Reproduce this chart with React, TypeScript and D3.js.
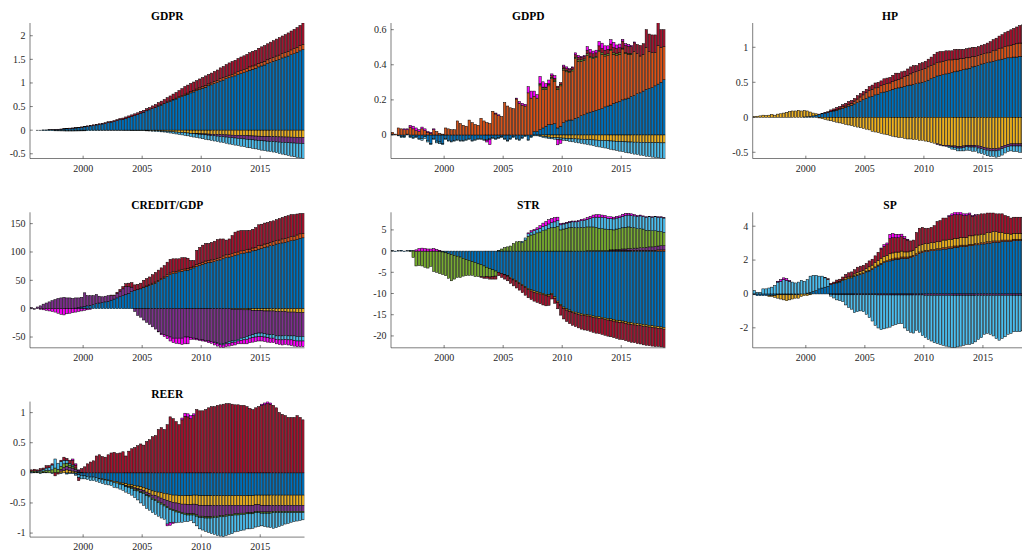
import React from "react";
import * as d3 from "d3";

// Quarterly sample: 1995Q3 ... 2018Q3 (93 quarters)
const FIRST_QUARTER = 1995.5;
const N_QUARTERS = 93;
const quarterStarts = d3.range(N_QUARTERS).map((i) => FIRST_QUARTER + i * 0.25);

// Shock colours (stacking order 1..8)
const SHOCK_COLORS = ["#0072BD", "#D95319", "#EDB120", "#7E2F8E", "#77AC30", "#4DBEEE", "#A2142F", "#FF00FF"];

const YEAR_TICKS = [2000, 2005, 2010, 2015];

// Each row of the series below: 1995Q3-1997Q4 | 1998-2001 | 2002-2005 | 2006-2009 | 2010-2013 | 2014-2017 | 2018Q1-Q3

// ---------- GDPR ----------
const gdprBlue = [
  0, 0,  0, 0, 0.005, 0.005,  0.01, 0.01, 0.015, 0.015,
  0.02, 0.025, 0.03, 0.035,  0.04, 0.045, 0.05, 0.06,  0.07, 0.08, 0.09, 0.1,  0.11, 0.12, 0.13, 0.14,
  0.16, 0.17, 0.18, 0.2,  0.22, 0.23, 0.25, 0.27,  0.29, 0.31, 0.33, 0.36,  0.38, 0.41, 0.43, 0.46,
  0.48, 0.51, 0.53, 0.56,  0.59, 0.61, 0.64, 0.66,  0.69, 0.71, 0.74, 0.76,  0.79, 0.81, 0.84, 0.86,
  0.89, 0.91, 0.94, 0.96,  0.99, 1.01, 1.04, 1.06,  1.09, 1.11, 1.13, 1.15,  1.18, 1.2, 1.22, 1.24,
  1.27, 1.29, 1.31, 1.34,  1.36, 1.38, 1.41, 1.43,  1.46, 1.48, 1.5, 1.53,  1.55, 1.57, 1.6, 1.62,
  1.65, 1.68, 1.71,
];
const gdprOrange = [
  0, 0,  0, 0, 0, 0,  0, 0, 0, 0,
  0, 0, 0, 0,  0, 0, 0, 0,  0, 0, 0, 0,  0, 0, 0, 0,
  0, 0, 0, 0,  0, 0, 0, 0,  0, 0, 0, 0,  0, 0, 0, 0,
  0.005, 0.005, 0.01, 0.01,  0.01, 0.015, 0.015, 0.02,  0.02, 0.02, 0.025, 0.025,  0.03, 0.03, 0.03, 0.035,
  0.035, 0.04, 0.04, 0.04,  0.045, 0.045, 0.05, 0.05,  0.05, 0.055, 0.055, 0.06,  0.06, 0.06, 0.065, 0.065,
  0.07, 0.07, 0.07, 0.075,  0.075, 0.08, 0.08, 0.085,  0.085, 0.09, 0.09, 0.095,  0.095, 0.1, 0.1, 0.105,
  0.105, 0.11, 0.11,
];
const gdprYellow = [
  0, 0,  0, 0, 0, 0,  0, 0, 0, 0,
  0, 0, 0, 0,  0, 0, 0, 0,  0, 0, 0, 0,  0, 0, 0, 0,
  0, 0, 0, 0,  0, 0, 0, 0,  -0.002, -0.003, -0.004, -0.005,  -0.006, -0.008, -0.01, -0.012,
  -0.014, -0.016, -0.018, -0.02,  -0.025, -0.03, -0.035, -0.04,  -0.045, -0.05, -0.055, -0.06,  -0.065, -0.07, -0.072, -0.075,
  -0.078, -0.08, -0.083, -0.086,  -0.089, -0.092, -0.095, -0.098,  -0.1, -0.103, -0.106, -0.108,  -0.11, -0.113, -0.115, -0.118,
  -0.12, -0.122, -0.125, -0.127,  -0.13, -0.132, -0.134, -0.136,  -0.138, -0.14, -0.142, -0.143,  -0.145, -0.146, -0.148, -0.149,
  -0.15, -0.152, -0.155,
];
const gdprPurple = [
  0, 0,  0, 0, 0, 0,  0, 0, 0, 0,
  0, 0, 0, 0,  0, 0, 0, 0,  0, 0, 0, 0,  0, 0, 0, 0,
  0, 0, 0, 0,  0, 0, 0, 0,  0, 0, 0, 0,  0, 0, 0, 0,
  0, 0, 0, 0,  0, 0, 0, 0,  0, 0, 0, 0,  -0.002, -0.005, -0.008, -0.011,
  -0.014, -0.018, -0.022, -0.026,  -0.03, -0.034, -0.038, -0.042,  -0.046, -0.05, -0.054, -0.058,  -0.062, -0.066, -0.07, -0.074,
  -0.078, -0.082, -0.086, -0.09,  -0.093, -0.096, -0.099, -0.102,  -0.105, -0.108, -0.111, -0.114,  -0.117, -0.12, -0.122, -0.124,
  -0.126, -0.128, -0.13,
];
const gdprLightBlue = [
  0, 0,  -0.002, -0.004, -0.006, -0.008,  -0.01, -0.012, -0.014, -0.015,
  -0.016, -0.017, -0.018, -0.018,  -0.018, -0.017, -0.016, -0.015,  -0.014, -0.012, -0.01, -0.008,  -0.006, -0.004, -0.003, -0.002,
  -0.001, -0.001, -0.001, -0.001,  -0.002, -0.002, -0.002, -0.003,  -0.003, -0.004, -0.004, -0.005,  -0.006, -0.007, -0.008, -0.01,
  -0.012, -0.015, -0.018, -0.02,  -0.025, -0.03, -0.035, -0.04,  -0.045, -0.05, -0.055, -0.06,  -0.065, -0.07, -0.075, -0.08,
  -0.09, -0.095, -0.1, -0.105,  -0.11, -0.115, -0.12, -0.125,  -0.13, -0.14, -0.145, -0.15,  -0.155, -0.16, -0.165, -0.17,
  -0.175, -0.18, -0.185, -0.19,  -0.2, -0.205, -0.21, -0.215,  -0.22, -0.23, -0.24, -0.25,  -0.26, -0.27, -0.28, -0.29,
  -0.3, -0.31, -0.32,
];
const gdprDarkRed = [
  0, 0,  0, 0, 0, 0,  0.002, 0.003, 0.004, 0.005,
  0.005, 0.006, 0.007, 0.008,  0.008, 0.009, 0.01, 0.01,  0.01, 0.012, 0.013, 0.014,  0.015, 0.016, 0.017, 0.018,
  0.019, 0.02, 0.022, 0.024,  0.025, 0.027, 0.03, 0.032,  0.034, 0.036, 0.038, 0.04,  0.04, 0.045, 0.05, 0.055,
  0.06, 0.07, 0.075, 0.08,  0.09, 0.1, 0.11, 0.12,  0.13, 0.15, 0.16, 0.17,  0.17, 0.18, 0.18, 0.19,
  0.19, 0.2, 0.2, 0.21,  0.21, 0.22, 0.23, 0.24,  0.25, 0.26, 0.27, 0.27,  0.28, 0.29, 0.29, 0.3,
  0.3, 0.31, 0.31, 0.32,  0.33, 0.33, 0.34, 0.35,  0.35, 0.36, 0.37, 0.37,  0.38, 0.39, 0.4, 0.41,
  0.42, 0.43, 0.45,
];

// ---------- GDPD ----------
const gdpdBlue = [
  0.005, 0,  -0.005, -0.01, -0.01, 0.005,  -0.01, -0.015, -0.01, -0.02,
  -0.02, -0.01, -0.03, -0.05,  -0.02, -0.035, -0.04, -0.05,  -0.02, -0.03, -0.035, -0.03,  -0.025, -0.03, -0.03, -0.025,
  -0.02, -0.03, -0.025, -0.02,  -0.02, -0.025, -0.025, -0.02,  -0.015, -0.02, -0.015, -0.01,  -0.02, -0.03, -0.02, -0.01,
  -0.02, -0.025, -0.015, -0.005,  -0.025, -0.01, 0.02, 0.02,  0.03, 0.04, 0.05, 0.06,  0.06, 0.065, 0.04, 0.05,
  0.07, 0.08, 0.085, 0.085,  0.095, 0.1, 0.11, 0.115,  0.125, 0.13, 0.135, 0.14,  0.145, 0.15, 0.16, 0.165,
  0.17, 0.18, 0.185, 0.19,  0.2, 0.205, 0.21, 0.22,  0.225, 0.235, 0.24, 0.25,  0.26, 0.265, 0.27, 0.28,
  0.29, 0.3, 0.315,
];
const gdpdOrange = [
  0.01, 0.005,  0.04, 0.035, 0.03, 0.025,  0.045, 0.035, 0.025, 0.02,
  0.035, 0.025, 0.015, 0.01,  0.03, 0.02, 0.01, 0.005,  0.04, 0.035, 0.03, 0.03,  0.08, 0.065, 0.055, 0.05,
  0.085, 0.07, 0.06, 0.055,  0.095, 0.08, 0.07, 0.065,  0.135, 0.12, 0.11, 0.105,  0.185, 0.165, 0.155, 0.15,
  0.205, 0.18, 0.17, 0.165,  0.24, 0.21, 0.2, 0.19,  0.25, 0.22, 0.21, 0.22,  0.26, 0.24, 0.22, 0.23,
  0.3, 0.28, 0.27, 0.28,  0.34, 0.32, 0.31, 0.31,  0.33, 0.31, 0.3, 0.3,  0.33, 0.31, 0.29, 0.29,
  0.31, 0.28, 0.27, 0.27,  0.29, 0.26, 0.25, 0.24,  0.25, 0.23, 0.21, 0.21,  0.24, 0.21, 0.2, 0.19,
  0.22, 0.2, 0.19,
];
const gdpdYellow = [
  0, 0,  0, 0, 0, 0,  0, 0, 0, 0,
  0, 0, 0, 0,  0, 0, 0, 0,  0, 0, 0, 0,  0, 0, 0, 0,
  0, 0, 0, 0,  0, 0, 0, 0,  0, 0, 0, 0,  0, 0, 0, 0,
  0, 0, 0, 0,  0, 0, 0, 0,  -0.005, -0.008, -0.01, -0.012,  -0.014, -0.015, -0.016, -0.017,
  -0.018, -0.019, -0.02, -0.021,  -0.022, -0.023, -0.024, -0.025,  -0.026, -0.027, -0.028, -0.029,  -0.03, -0.031, -0.032, -0.033,
  -0.034, -0.035, -0.036, -0.037,  -0.038, -0.039, -0.04, -0.04,  -0.041, -0.041, -0.042, -0.042,  -0.043, -0.043, -0.044, -0.044,
  -0.044, -0.045, -0.045,
];
const gdpdGreen = [
  0, 0,  0, 0, 0, 0,  0, 0, 0, 0,
  0, 0, 0, 0,  0, 0, 0, 0,  0, 0, 0, 0,  0, 0, 0, 0,
  0, 0, 0, 0,  0, 0, 0, 0,  0, 0, 0, 0,  0, 0, 0, 0,
  0, 0, 0, 0,  0, 0, 0, 0,  0.008, 0.008, 0.008, 0.008,  0.008, 0.008, 0.008, 0.008,
  0.008, 0.008, 0.008, 0.008,  0.008, 0.008, 0.008, 0.008,  0.008, 0.008, 0.008, 0.008,  0.008, 0.008, 0.008, 0.008,
  0.008, 0.008, 0.008, 0.008,  0.005, 0.005, 0.005, 0.005,  0, 0, 0, 0,  0, 0, 0, 0,
  0, 0, 0,
];
const gdpdLightBlue = [
  0, 0,  0, -0.005, -0.005, 0,  -0.005, -0.005, -0.005, -0.005,
  -0.01, -0.01, -0.01, -0.005,  -0.005, -0.01, -0.01, -0.005,  -0.005, -0.005, -0.005, -0.005,  -0.005, -0.005, -0.005, -0.005,
  -0.005, -0.005, -0.005, -0.005,  -0.005, -0.005, -0.005, -0.005,  -0.005, -0.005, -0.005, -0.005,  -0.005, -0.005, -0.005, -0.005,
  -0.005, -0.005, -0.005, -0.005,  -0.005, -0.005, -0.005, -0.005,  -0.005, -0.006, -0.007, -0.008,  -0.008, -0.009, -0.01, -0.011,
  -0.012, -0.014, -0.016, -0.018,  -0.02, -0.022, -0.024, -0.026,  -0.028, -0.03, -0.033, -0.036,  -0.038, -0.04, -0.042, -0.045,
  -0.047, -0.05, -0.052, -0.055,  -0.057, -0.06, -0.062, -0.065,  -0.068, -0.07, -0.073, -0.076,  -0.078, -0.08, -0.082, -0.084,
  -0.086, -0.088, -0.09,
];
const gdpdDarkRed = [
  0, 0,  0, 0, 0, 0,  0, 0, 0, 0,
  0, 0, 0, 0,  0, 0, 0, 0,  0, 0, 0, 0,  0, 0, 0, 0,
  0, 0, 0, 0,  0, 0, 0, 0,  0, 0, 0, 0,  0, 0, 0, 0,
  0, 0, 0, 0,  0, 0, 0, 0,  0.005, 0.005, 0.005, 0.005,  0.01, 0.01, 0.01, 0.01,
  0.01, 0.01, 0.01, 0.01,  0.015, 0.015, 0.015, 0.015,  0.02, 0.02, 0.02, 0.02,  0.025, 0.025, 0.025, 0.025,
  0.03, 0.03, 0.03, 0.03,  0.04, 0.04, 0.04, 0.04,  0.05, 0.05, 0.06, 0.06,  0.1, 0.1, 0.1, 0.1,
  0.13, 0.1, 0.095,
];
const gdpdMagenta = [
  0, 0,  0, 0, 0.005, 0.005,  0.01, 0.015, 0.015, 0.01,
  0.01, 0.01, 0.005, 0.005,  0.005, 0, 0, 0,  0, 0, 0, 0,  0, 0, 0, 0,
  0, 0, 0, 0,  0, 0, -0.01, -0.03,  0, 0.005, 0.005, 0,  0, 0, 0, 0,
  0.005, 0.01, 0.01, 0.01,  0.035, 0.04, 0.03, 0.02,  0.04, 0.03, 0.02, 0.02,  0.01, 0.015, -0.03, -0.02,
  0.01, 0.01, 0.005, 0.005,  0.01, 0.01, 0.005, 0.005,  0.02, 0.02, 0.015, 0.015,  0.025, 0.03, 0.025, 0.02,
  0.025, 0.03, 0.02, 0.02,  0.01, 0.01, 0.01, 0.005,  0.005, 0, 0, 0,  0, 0, 0, 0,
  0, 0, 0,
];

// ---------- HP ----------
const hpBlue = [
  0, 0,  0, 0, 0, 0,  0, 0, 0, 0,
  0, 0, 0, 0,  0, 0, 0, 0.005,  0.01, 0.015, 0.02, 0.03,  0.04, 0.05, 0.06, 0.07,
  0.08, 0.09, 0.1, 0.11,  0.13, 0.14, 0.16, 0.17,  0.19, 0.21, 0.23, 0.25,  0.27, 0.29, 0.3, 0.32,
  0.33, 0.35, 0.36, 0.37,  0.38, 0.4, 0.41, 0.42,  0.43, 0.44, 0.45, 0.46,  0.47, 0.48, 0.49, 0.5,
  0.51, 0.53, 0.55, 0.57,  0.59, 0.6, 0.61, 0.62,  0.63, 0.64, 0.65, 0.66,  0.67, 0.68, 0.69, 0.7,
  0.72, 0.73, 0.74, 0.76,  0.77, 0.78, 0.79, 0.8,  0.81, 0.82, 0.83, 0.84,  0.85, 0.85, 0.86, 0.86,
  0.87, 0.87, 0.88,
];
const hpOrange = [
  0, 0,  0, 0, 0, 0,  0, 0, 0, 0,
  0, 0, 0, 0,  0, 0, 0, 0,  0, 0, 0, 0,  0, 0, 0, 0,
  0.005, 0.01, 0.01, 0.015,  0.02, 0.02, 0.025, 0.03,  0.04, 0.05, 0.06, 0.07,  0.08, 0.09, 0.1, 0.1,
  0.1, 0.1, 0.11, 0.11,  0.11, 0.11, 0.12, 0.12,  0.13, 0.14, 0.15, 0.16,  0.17, 0.17, 0.18, 0.18,
  0.19, 0.19, 0.19, 0.19,  0.19, 0.19, 0.19, 0.19,  0.19, 0.18, 0.18, 0.17,  0.17, 0.16, 0.16, 0.15,
  0.15, 0.14, 0.14, 0.14,  0.14, 0.14, 0.14, 0.15,  0.15, 0.16, 0.16, 0.17,  0.17, 0.18, 0.18, 0.19,
  0.19, 0.19, 0.2,
];
const hpYellow = [
  0.01, 0.015,  0.02, 0.03, 0.025, 0.03,  0.04, 0.03, 0.045, 0.05,
  0.06, 0.07, 0.08, 0.09,  0.09, 0.1, 0.09, 0.09,  0.08, 0.06, 0.04, 0.02,  -0.01, -0.02, -0.03, -0.04,
  -0.05, -0.06, -0.07, -0.08,  -0.09, -0.1, -0.11, -0.12,  -0.13, -0.14, -0.15, -0.16,  -0.17, -0.18, -0.2, -0.21,
  -0.22, -0.23, -0.24, -0.25,  -0.26, -0.27, -0.28, -0.29,  -0.29, -0.3, -0.31, -0.31,  -0.32, -0.32, -0.33, -0.33,
  -0.34, -0.35, -0.36, -0.37,  -0.38, -0.39, -0.4, -0.4,  -0.4, -0.41, -0.41, -0.42,  -0.42, -0.41, -0.4, -0.4,
  -0.4, -0.4, -0.41, -0.42,  -0.43, -0.44, -0.45, -0.45,  -0.45, -0.44, -0.42, -0.4,  -0.39, -0.38, -0.38, -0.38,
  -0.38, -0.38, -0.38,
];
const hpPurple = [
  0, 0,  0, 0, 0, 0,  0, 0, 0, 0,
  0, 0, 0, 0,  0, 0, 0, 0,  0, 0, 0, 0,  0, 0, 0, 0,
  0, 0, 0, 0,  0, 0, 0, 0,  0, 0, 0, 0,  0, 0, 0, 0,
  0, 0, 0, 0,  0, 0, 0, 0,  0, 0, 0, 0,  0, 0, 0, 0,
  0, 0, 0, 0,  -0.01, -0.01, -0.01, -0.015,  -0.015, -0.015, -0.02, -0.02,  -0.02, -0.02, -0.02, -0.025,
  -0.025, -0.025, -0.03, -0.03,  -0.03, -0.03, -0.03, -0.03,  -0.03, -0.03, -0.03, -0.03,  -0.03, -0.03, -0.03, -0.03,
  -0.03, -0.03, -0.03,
];
const hpLightBlue = [
  0, 0,  0, 0, 0, 0,  0, 0, 0, 0,
  0, 0, 0, 0,  0, 0, 0, 0,  0, 0, 0, 0,  0, 0, 0, 0,
  0, 0, 0, 0,  0, 0, 0, 0,  0, 0, 0, 0,  0, 0, 0, 0,
  0, 0, 0, 0,  0, 0, 0, 0,  0, 0, 0, 0,  0, 0, 0, 0,
  0, 0, 0, 0,  0, 0, 0, 0,  -0.02, -0.03, -0.03, -0.04,  -0.04, -0.05, -0.05, -0.05,
  -0.06, -0.06, -0.07, -0.07,  -0.07, -0.08, -0.08, -0.08,  -0.09, -0.09, -0.09, -0.08,  -0.07, -0.07, -0.08, -0.08,
  -0.09, -0.09, -0.1,
];
const hpDarkRed = [
  0, 0,  0, 0, 0, 0,  0, 0, 0, 0,
  0, 0, 0, 0,  0, 0, 0, 0,  0, 0, 0, 0,  0.005, 0.005, 0.01, 0.01,
  0.02, 0.02, 0.03, 0.03,  0.03, 0.04, 0.04, 0.04,  0.04, 0.05, 0.05, 0.05,  0.05, 0.06, 0.06, 0.07,
  0.07, 0.07, 0.08, 0.08,  0.08, 0.09, 0.1, 0.09,  0.09, 0.08, 0.09, 0.1,  0.1, 0.09, 0.1, 0.1,
  0.1, 0.11, 0.12, 0.14,  0.15, 0.15, 0.14, 0.14,  0.13, 0.13, 0.14, 0.14,  0.13, 0.13, 0.13, 0.14,
  0.13, 0.13, 0.13, 0.13,  0.13, 0.14, 0.15, 0.16,  0.17, 0.18, 0.19, 0.2,  0.21, 0.22, 0.23, 0.24,
  0.25, 0.26, 0.27,
];

// ---------- CREDIT/GDP ----------
const crBlue = [
  0, 0,  0, 0, 0, 0,  0, 0, 0, 0,
  0, 0, 0, 0,  0, 1, 2, 3,  4, 5, 6, 7,  9, 10, 11, 12,
  13, 15, 17, 19,  21, 23, 25, 27,  30, 32, 34, 35,  37, 39, 41, 43,
  45, 48, 51, 54,  57, 60, 62, 63,  65, 66, 67, 68,  70, 72, 74, 76,
  78, 80, 81, 82,  83, 85, 86, 88,  90, 91, 92, 94,  95, 97, 98, 99,
  100, 102, 103, 105,  106, 108, 109, 111,  112, 114, 115, 116,  117, 118, 120, 121,
  122, 124, 125,
];
const crOrange = [
  0, 0,  0, 0, 0, 0,  0, 0, 0, 0,
  0, 0, 0, 0,  0, 0, 0, 0,  0, 0, 0, 0,  0, 0, 0, 0,
  0, 0, 0, 0,  0, 0, 0, 0,  0, 0, 0, 0,  1, 1, 1, 2,
  2, 2, 2, 2,  3, 3, 3, 3,  3, 3, 3, 3,  3, 3, 4, 4,
  4, 4, 4, 4,  4, 4, 4, 5,  5, 5, 5, 5,  5, 5, 5, 5,
  5, 5, 5, 6,  6, 6, 6, 6,  6, 6, 6, 7,  7, 7, 7, 7,
  8, 8, 8,
];
const crYellow = [
  0, 0,  0, 0, 0, 0,  0, 0, 0, 0,
  0, 0, 0, 0,  0, 0, 0, 0,  0, 0, 0, 0,  0, 0, 0, 0,
  0, 0, 0, 0,  0, 0, 0, 0,  0, 0, 0, 0,  0, 0, 0, 0,
  0, 0, 0, 0,  0, 0, 0, 0,  0, 0, 0, 0,  0, 0, 0, 0,
  0, 0, 0, 0,  0, 0, 0, 0,  0, 0, -1, -1,  -1, -1, -2, -2,
  -2, -3, -3, -3,  -3, -4, -4, -4,  -4, -5, -5, -5,  -5, -6, -6, -6,
  -7, -7, -7,
];
const crPurple = [
  2, -1,  3, 5, 8, 10,  12, 14, 16, 18,
  19, 20, 19, 19,  18, 18, 17, 17,  24, 18, 17, 16,  16, 12, 10, 10,
  10, 8, 6, 8,  10, 12, 14, 12,  8, -5, -12, -15,  -20, -24, -28, -32,
  -36, -40, -44, -46,  -48, -50, -52, -52,  -52, -52, -50, -50,  -51, -52, -53, -54,
  -55, -56, -57, -58,  -59, -60, -61, -62,  -60, -58, -56, -55,  -53, -51, -49, -47,
  -45, -43, -41, -40,  -40, -40, -41, -42,  -42, -43, -43, -43,  -42, -42, -42, -42,
  -42, -42, -42,
];
const crLightBlue = [
  0, 0,  0, 0, 0, 0,  0, 0, 0, 0,
  0, 0, 0, 0,  0, 0, 0, 0,  0, 0, 0, 0,  0, 0, 0, 0,
  0, 0, 0, 0,  0, 0, 0, 0,  0, 0, 0, 0,  0, 0, 0, 0,
  0, 0, 0, 0,  0, 0, 0, 0,  0, 0, 0, 0,  0, 0, 0, 0,
  0, 0, 0, 0,  -1, -1, -2, -2,  -2, -3, -3, -3,  -3, -4, -4, -5,
  -5, -5, -6, -6,  -6, -6, -6, -6,  -6, -6, -7, -7,  -7, -7, -7, -8,
  -8, -8, -8,
];
const crDarkRed = [
  0, 0,  0, 0, 0, 0,  0, 0, 0, 0,
  0, 0, 0, 0,  0, 0, 0, 0,  0, 0, 0, 0,  0, 0, 0, 0,
  0, 1, 1, 2,  3, 4, 5, 6,  8, 10, 9, 10,  12, 13, 14, 15,
  17, 18, 19, 20,  22, 24, 23, 22,  20, 21, 20, 18,  12, 10, 25, 28,
  30, 31, 30, 31,  32, 33, 33, 30,  26, 27, 32, 36,  37, 36, 35, 34,
  33, 33, 35, 37,  37, 37, 37, 37,  37, 37, 38, 38,  39, 39, 39, 38,
  37, 36, 35,
];
const crMagenta = [
  0, 0,  0, -1, -2, -3,  -4, -5, -6, -8,
  -10, -11, -9, -8,  -7, -6, -5, -4,  -3, -2, -1, 0,  0, 0, 0, 0,
  0, 0, 0, 0,  0, 0, 0, 0,  0, 0, 0, 0,  0, 0, 0, 0,
  0, -1, -2, -3,  -5, -7, -8, -9,  -10, -11, -12, -12,  -3, -2, -2, -2,
  -2, -2, -3, -3,  -4, -5, -5, -5,  -5, -5, -5, -5,  -5, -6, -7, -8,
  -8, -8, -8, -8,  -8, -8, -8, -8,  -8, -8, -8, -9,  -9, -9, -10, -10,
  -10, -10, -10,
];

// ---------- STR ----------
const strBlue = [
  0.1, -0.1,  0.1, 0.2, -0.1, 0.1,  0.2, 0.1, 0, 0,
  0, 0, 0, 0,  0, 0, -0.1, -0.2,  -0.4, -0.6, -0.8, -1,  -1.2, -1.4, -1.7, -2,
  -2.2, -2.5, -2.7, -3,  -3.2, -3.5, -3.8, -4.1,  -4.4, -4.7, -5, -5.3,  -5.5, -5.8, -6.2, -6.6,
  -7, -7.4, -7.9, -8.4,  -8.8, -9.1, -9.4, -9.6,  -9.8, -10, -10.2, -10.3,  -10, -10.8, -11.8, -12.6,
  -13.2, -13.6, -13.9, -14.2,  -14.4, -14.6, -14.8, -14.9,  -15, -15.1, -15.3, -15.4,  -15.5, -15.6, -15.8, -15.9,
  -16, -16.1, -16.3, -16.4,  -16.5, -16.6, -16.8, -16.9,  -17, -17.1, -17.2, -17.3,  -17.4, -17.5, -17.6, -17.7,
  -17.8, -17.9, -18,
];
const strOrange = [
  0, 0,  0, 0, 0, 0,  0, 0, 0, 0,
  0, 0, 0, 0,  0, 0, 0, 0,  0, 0, 0, 0,  0, 0, 0, 0,
  0, 0, 0, 0,  0, 0, 0, 0,  0, 0, 0, 0,  0, 0, 0, 0,
  0, 0, 0, 0,  0, 0, 0, 0,  0, 0, 0, 0,  0, 0, 0, 0,
  0, 0, 0, 0,  0, 0, 0, 0,  0.1, 0.1, 0.1, 0.1,  0.1, 0.1, 0.1, 0.1,
  0.2, 0.2, 0.2, 0.2,  0.2, 0.2, 0.2, 0.2,  0.2, 0.2, 0.2, 0.2,  0.2, 0.2, 0.2, 0.2,
  0.3, 0.3, 0.3,
];
const strYellow = [
  0, 0,  0, 0, 0, 0,  0, 0, 0, 0,
  0, 0, 0, 0,  0, 0, 0, 0,  0, 0, 0, 0,  0, 0, 0, 0,
  0, 0, 0, 0,  0, 0, 0, 0,  0, 0, 0, 0,  -0.1, -0.1, -0.2, -0.2,
  -0.2, -0.2, -0.2, -0.2,  -0.3, -0.3, -0.3, -0.3,  -0.3, -0.3, -0.3, -0.3,  -0.3, -0.3, -0.3, -0.3,
  -0.3, -0.3, -0.3, -0.3,  -0.3, -0.3, -0.3, -0.3,  -0.3, -0.3, -0.35, -0.35,  -0.35, -0.35, -0.35, -0.35,
  -0.4, -0.4, -0.4, -0.4,  -0.4, -0.4, -0.4, -0.4,  -0.4, -0.4, -0.4, -0.4,  -0.4, -0.4, -0.4, -0.4,
  -0.4, -0.4, -0.4,
];
const strPurple = [
  0, 0,  0, 0, 0, 0,  0, 0, 0, 0,
  0, 0, 0, 0,  0, 0, 0, 0,  0, 0, 0, 0,  0, 0, 0, 0,
  0, 0, 0, 0,  0, 0, 0, 0,  0, 0, 0, 0,  0, 0, 0, 0,
  0, 0, 0, 0,  0, 0, 0, 0,  0, 0, 0, 0,  0, 0, 0, 0,
  0, 0, 0, 0,  0, 0, 0, 0,  0, 0, 0, 0,  0, 0, 0, 0,
  0.1, 0.1, 0.2, 0.2,  0.3, 0.3, 0.4, 0.4,  0.5, 0.5, 0.6, 0.6,  0.7, 0.8, 0.8, 0.9,
  0.9, 1, 1,
];
const strGreen = [
  0, 0,  0, 0, 0, 0,  -0.1, -1.5, -3.5, -3.4,
  -3.5, -3.8, -4, -3.6,  -4.8, -5, -5.2, -5.3,  -5.4, -5.8, -6.2, -5.6,  -5, -4.8, -4.2, -3.8,
  -3.5, -3.2, -3.3, -3,  -2.8, -2.6, -2.2, -2,  -1.6, -1.2, 0.2, 0.5,  0.8, 1, 1.2, 1.8,
  2.2, 2.3, 2, 2.6,  3.5, 3.8, 4, 4.3,  4.5, 4.8, 5, 5.3,  5.5, 5.6, 5.8, 5,
  5.2, 5.4, 5.5, 5.6,  5.5, 5.5, 5.6, 5.6,  5.6, 5.6, 5.6, 5.5,  5.3, 5.2, 5.1, 5,
  4.8, 4.7, 4.8, 4.9,  5, 5.1, 5.1, 5,  4.8, 4.6, 4.5, 4.4,  4, 3.9, 3.8, 3.7,
  3.5, 3.3, 3.1,
];
const strLightBlue = [
  0, 0,  0, 0, 0, 0,  0, 0, 0, 0,
  0, 0, 0, 0,  0, 0, 0, 0,  0, 0, 0, 0,  0, 0, 0, 0,
  0, 0, 0, 0,  0, 0, 0, 0,  0, 0, 0, 0,  0, 0, 0, 0,
  0, 0, 0.3, 0.5,  0.6, 0.7, 0.8, 0.8,  0.9, 1, 1, 1.1,  1.2, 1.3, 1.4, 1.2,
  1.2, 1.2, 1.3, 1.3,  1.4, 1.5, 1.6, 1.7,  1.8, 2, 2.2, 2.4,  2.6, 2.7, 2.7, 2.6,
  2.6, 2.6, 2.6, 2.6,  2.7, 2.8, 2.8, 2.8,  2.8, 2.9, 3, 3,  3.1, 3.2, 3.2, 3.3,
  3.3, 3.4, 3.4,
];
const strDarkRed = [
  0, 0,  0, 0, 0, 0,  0, 0, 0, 0,
  0, 0, 0, 0,  0, 0, 0, 0,  0, 0, 0, 0,  0, 0, 0, 0,
  0, 0, 0, 0,  -0.2, -0.3, -0.4, -0.5,  -0.6, -0.7, -0.8, -0.9,  -1, -1.1, -1.2, -1.4,
  -1.5, -1.6, -1.7, -1.8,  -1.9, -2, -2.1, -2.2,  -2.3, -2.4, -2.4, -2.2,  -1, -1.2, -1.5, -2.2,
  -2.5, -2.7, -2.9, -3,  -3.1, -3.2, -3.3, -3.4,  -3.4, -3.5, -3.5, -3.6,  -3.6, -3.7, -3.7, -3.8,
  -3.8, -3.9, -3.9, -4,  -4, -4.1, -4.1, -4.2,  -4.2, -4.3, -4.3, -4.4,  -4.4, -4.4, -4.4, -4.4,
  -4.3, -4.3, -4.3,
];
const strMagenta = [
  0, 0,  0, 0, 0, 0,  0, 0, 0.3, 0.6,
  0.7, 0.6, 0.5, 0.5,  0.6, 0.4, 0.2, 0,  0, 0, 0, 0,  0, 0, 0, 0,
  0, 0, 0, 0,  0, 0, 0, 0,  0, 0, 0, 0,  0, 0, 0, 0,
  0, 0, 0, 0,  0.2, 0.3, 0.3, 0.4,  0.6, 0.8, 1, 1,  1, 1, 0.8, 0.3,
  0.2, 0.2, 0.2, 0.2,  0.2, 0.2, 0.3, 0.3,  0.4, 0.5, 0.6, 0.6,  0.6, 0.5, 0.5, 0.4,
  0.4, 0.4, 0.4, 0.4,  0.5, 0.5, 0.4, 0.4,  0.3, 0.2, 0.2, 0.1,  0.1, 0.1, 0.1, 0.1,
  0.1, 0.1, 0.1,
];

// ---------- SP ----------
const spBlue = [
  -0.05, -0.1,  -0.1, -0.1, -0.1, -0.1,  -0.1, -0.1, -0.05, -0.05,
  -0.05, -0.05, -0.05, -0.05,  -0.05, -0.05, 0, 0,  0.05, 0.1, 0.15, 0.2,  0.3, 0.35, 0.4, 0.45,
  0.55, 0.6, 0.65, 0.7,  0.8, 0.85, 0.9, 0.95,  1.05, 1.1, 1.15, 1.2,  1.3, 1.35, 1.45, 1.55,
  1.65, 1.75, 1.85, 1.9,  1.95, 2, 2.05, 2.05,  2.1, 2.1, 2.1, 2.15,  2.2, 2.3, 2.4, 2.45,
  2.5, 2.5, 2.55, 2.55,  2.6, 2.6, 2.65, 2.65,  2.7, 2.7, 2.75, 2.75,  2.8, 2.8, 2.8, 2.85,
  2.85, 2.9, 2.9, 2.95,  2.95, 3, 3, 3.05,  3.05, 3.05, 3.1, 3.1,  3.1, 3.1, 3.15, 3.15,
  3.15, 3.15, 3.2,
];
const spOrange = [
  0, 0,  0, 0, 0, 0,  0, 0, 0, 0,
  0, 0, 0, 0,  0, 0, 0, 0,  0, 0, 0, 0,  0, 0, 0, 0,
  0, 0, 0, 0,  0, 0, 0, 0,  0.03, 0.03, 0.04, 0.04,  0.05, 0.05, 0.05, 0.05,
  0.06, 0.06, 0.06, 0.06,  0.07, 0.07, 0.07, 0.07,  0.08, 0.08, 0.08, 0.08,  0.08, 0.08, 0.08, 0.08,
  0.08, 0.08, 0.08, 0.08,  0.08, 0.08, 0.08, 0.08,  0.08, 0.08, 0.08, 0.08,  0.08, 0.08, 0.08, 0.08,
  0.08, 0.08, 0.08, 0.08,  0.08, 0.08, 0.08, 0.08,  0.08, 0.08, 0.08, 0.08,  0.08, 0.08, 0.08, 0.08,
  0.08, 0.08, 0.08,
];
const spYellow = [
  0, 0,  0, 0, 0, -0.05,  -0.05, -0.1, -0.2, -0.25,
  -0.3, -0.35, -0.3, -0.25,  -0.2, -0.2, -0.15, -0.1,  -0.1, -0.05, 0, 0,  0, 0, 0, 0,
  0, 0, 0.05, 0.05,  0.05, 0.1, 0.1, 0.1,  0.1, 0.15, 0.15, 0.15,  0.15, 0.2, 0.2, 0.25,
  0.25, 0.3, 0.3, 0.3,  0.35, 0.35, 0.35, 0.35,  0.35, 0.3, 0.3, 0.3,  0.3, 0.35, 0.4, 0.4,
  0.4, 0.4, 0.4, 0.4,  0.4, 0.4, 0.45, 0.45,  0.45, 0.45, 0.45, 0.45,  0.45, 0.45, 0.45, 0.5,
  0.5, 0.5, 0.5, 0.5,  0.5, 0.55, 0.55, 0.55,  0.55, 0.5, 0.45, 0.4,  0.4, 0.35, 0.35, 0.35,
  0.35, 0.35, 0.35,
];
const spPurple = [
  0, 0,  0, 0, 0, 0,  0, 0, 0, 0,
  0, 0, 0, 0,  0, 0, 0, 0,  0, 0, 0, 0,  0, 0, 0, 0,
  -0.03, -0.04, -0.05, -0.05,  -0.05, -0.05, -0.05, -0.05,  -0.05, -0.05, -0.05, -0.05,  -0.05, -0.05, -0.05, -0.05,
  -0.06, -0.06, -0.06, -0.06,  -0.06, -0.06, -0.06, -0.06,  -0.06, -0.06, -0.06, -0.06,  -0.06, -0.06, -0.06, -0.06,
  -0.08, -0.08, -0.08, -0.08,  -0.08, -0.08, -0.08, -0.08,  -0.08, -0.08, -0.08, -0.08,  -0.08, -0.08, -0.08, -0.08,
  -0.08, -0.08, -0.08, -0.08,  -0.08, -0.08, -0.08, -0.08,  -0.08, -0.08, -0.08, -0.08,  -0.08, -0.08, -0.08, -0.08,
  -0.08, -0.08, -0.08,
];
const spLightBlue = [
  0.2, 0.1,  0.1, 0.3, 0.3, 0.35,  0.4, 0.5, 0.7, 0.75,
  0.85, 0.8, 0.75, 0.7,  0.65, 0.7, 0.8, 0.75,  0.8, 0.95, 0.95, 0.9,  0.75, 0.7, 0.55, 0.4,
  -0.1, -0.2, -0.3, -0.35,  -0.4, -0.6, -0.75, -0.85,  -1.05, -1, -0.95, -1,  -1.15, -1.35, -1.55, -1.8,
  -1.95, -2.05, -2, -1.95,  -1.9, -1.8, -1.75, -1.7,  -1.7, -1.95, -2.1, -2.2,  -2.25, -2.1, -2.2, -2.4,
  -2.5, -2.6, -2.7, -2.8,  -2.85, -2.9, -2.95, -3,  -3.05, -3.1, -3.1, -3.05,  -3, -2.95, -2.9, -2.9,
  -2.85, -2.75, -2.6, -2.5,  -2.3, -2.25, -2.3, -2.4,  -2.55, -2.65, -2.55, -2.45,  -2.3, -2.25, -2.15, -2.15,
  -2.15, -2.1, -2.05,
];
const spDarkRed = [
  0, 0,  0, 0, 0, 0,  0, 0, 0, 0,
  0, 0, 0, 0,  0, 0, 0, 0,  0, 0, 0, 0,  0, 0, 0.02, 0.05,
  0.08, 0.1, 0.12, 0.12,  0.15, 0.2, 0.25, 0.25,  0.25, 0.3, 0.3, 0.3,  0.3, 0.35, 0.35, 0.4,
  0.5, 0.55, 0.6, 0.65,  0.9, 0.9, 0.85, 0.85,  0.85, 0.8, 0.7, 0.6,  0.6, 0.9, 1, 1,
  0.9, 0.9, 0.9, 1,  1.2, 1.25, 1.3, 1.3,  1.35, 1.4, 1.4, 1.4,  1.35, 1.3, 1.3, 1.25,
  1.15, 1.15, 1.2, 1.2,  1.2, 1.15, 1.15, 1.1,  1.05, 1.1, 1.1, 1.05,  1, 0.95, 0.95, 0.95,
  0.95, 0.95, 0.95,
];
const spMagenta = [
  0, 0,  0, 0, 0, 0,  0, 0, 0.05, 0.1,
  0.1, 0.1, 0.05, 0,  0, 0, 0, 0,  0, 0, 0, 0,  0, 0, 0, 0,
  0, 0, 0, 0,  0, 0, 0, 0,  0, 0, 0, 0,  0, 0, 0, 0,
  0, 0.05, 0.1, 0.1,  0.25, 0.25, 0.2, 0.2,  0.15, 0.1, 0.05, 0,  0, 0, 0, 0,
  0, 0, 0, 0,  0, 0, 0, 0,  0.05, 0.1, 0.15, 0.15,  0.15, 0.1, 0.1, 0.1,
  0.05, 0.05, 0, 0,  0, 0, 0, 0,  0, 0, 0, 0,  0, 0, 0, 0,
  0, 0, 0,
];

// ---------- REER ----------
const reerBlue = [
  0.02, 0.01,  0.01, -0.01, 0.01, 0.01,  0, -0.01, 0, 0,
  -0.01, 0, -0.02, -0.01,  -0.01, -0.02, -0.03, -0.04,  -0.05, -0.06, -0.07, -0.07,  -0.08, -0.09, -0.1, -0.11,
  -0.12, -0.13, -0.14, -0.15,  -0.16, -0.17, -0.18, -0.19,  -0.2, -0.21, -0.22, -0.23,  -0.24, -0.26, -0.28, -0.3,
  -0.31, -0.32, -0.33, -0.34,  -0.35, -0.36, -0.37, -0.37,  -0.38, -0.38, -0.38, -0.38,  -0.38, -0.37, -0.37, -0.38,
  -0.38, -0.38, -0.38, -0.38,  -0.38, -0.38, -0.38, -0.38,  -0.38, -0.38, -0.38, -0.38,  -0.38, -0.38, -0.38, -0.38,
  -0.38, -0.38, -0.37, -0.37,  -0.37, -0.37, -0.37, -0.37,  -0.37, -0.37, -0.37, -0.37,  -0.37, -0.37, -0.37, -0.37,
  -0.37, -0.37, -0.37,
];
const reerYellow = [
  0, 0,  0, 0, 0, 0,  0, 0, 0, 0,
  0.03, 0.04, 0.05, 0.04,  0.03, 0.02, 0.01, 0,  0, 0, 0, 0,  0, -0.01, -0.01, -0.01,
  -0.01, -0.01, -0.02, -0.02,  -0.02, -0.02, -0.03, -0.03,  -0.03, -0.04, -0.04, -0.05,  -0.05, -0.06, -0.06, -0.07,
  -0.07, -0.08, -0.09, -0.1,  -0.11, -0.12, -0.12, -0.13,  -0.13, -0.14, -0.14, -0.15,  -0.15, -0.15, -0.16, -0.16,
  -0.16, -0.16, -0.16, -0.16,  -0.16, -0.16, -0.16, -0.16,  -0.16, -0.16, -0.16, -0.16,  -0.16, -0.16, -0.16, -0.16,
  -0.16, -0.16, -0.16, -0.16,  -0.17, -0.17, -0.17, -0.17,  -0.17, -0.17, -0.17, -0.17,  -0.17, -0.17, -0.17, -0.17,
  -0.17, -0.17, -0.17,
];
const reerPurple = [
  0, 0,  0, 0, 0, 0,  0, 0, 0, 0,
  0.03, 0.05, 0.06, 0.05,  0.05, 0.04, 0.02, 0,  0, 0, 0, 0,  0, 0, 0, 0,
  0, 0, 0, 0,  0, 0, -0.01, -0.01,  -0.01, -0.02, -0.02, -0.03,  -0.03, -0.04, -0.04, -0.05,
  -0.06, -0.07, -0.08, -0.09,  -0.1, -0.11, -0.12, -0.13,  -0.13, -0.14, -0.15, -0.15,  -0.15, -0.16, -0.17, -0.18,
  -0.18, -0.19, -0.19, -0.19,  -0.18, -0.18, -0.17, -0.17,  -0.16, -0.15, -0.15, -0.14,  -0.14, -0.13, -0.13, -0.12,
  -0.12, -0.12, -0.11, -0.11,  -0.11, -0.11, -0.11, -0.11,  -0.1, -0.1, -0.1, -0.1,  -0.1, -0.1, -0.1, -0.1,
  -0.1, -0.1, -0.1,
];
const reerGreen = [
  0.01, 0.02,  0.01, 0.02, 0.02, 0.03,  0.04, 0.05, 0.08, 0.06,
  0.05, 0.06, 0.05, 0.04,  0.03, 0.02, 0.01, 0.01,  0, 0, 0, 0,  0, 0, 0, 0,
  0, 0, 0, 0,  -0.01, -0.01, -0.01, -0.01,  -0.02, -0.02, -0.02, -0.02,  -0.02, -0.02, -0.02, -0.02,
  -0.02, -0.02, -0.02, -0.02,  -0.02, -0.02, -0.02, -0.02,  -0.02, -0.02, -0.02, -0.02,  -0.02, -0.02, -0.02, -0.02,
  -0.02, -0.02, -0.02, -0.02,  -0.02, -0.02, -0.02, -0.02,  -0.02, -0.02, -0.02, -0.02,  -0.02, -0.02, -0.02, -0.02,
  -0.02, -0.02, -0.02, -0.02,  -0.02, -0.02, -0.02, -0.02,  -0.02, -0.02, -0.02, -0.02,  -0.02, -0.02, -0.02, -0.02,
  -0.02, -0.02, -0.02,
];
const reerLightBlue = [
  0, 0,  0.01, 0.02, 0.03, 0.04,  0.05, 0.08, 0.15, 0.1,
  0.08, 0.06, 0.05, 0.03,  0.02, -0.02, -0.05, -0.06,  -0.05, -0.05, -0.06, -0.06,  -0.06, -0.06, -0.07, -0.07,
  -0.07, -0.07, -0.08, -0.08,  -0.08, -0.09, -0.09, -0.1,  -0.11, -0.12, -0.15, -0.17,  -0.2, -0.21, -0.22, -0.22,
  -0.23, -0.23, -0.23, -0.22,  -0.27, -0.22, -0.19, -0.18,  -0.16, -0.14, -0.12, -0.11,  -0.09, -0.13, -0.16, -0.19,
  -0.21, -0.22, -0.24, -0.26,  -0.28, -0.3, -0.32, -0.33,  -0.32, -0.31, -0.3, -0.28,  -0.27, -0.27, -0.26, -0.25,
  -0.25, -0.24, -0.24, -0.23,  -0.21, -0.22, -0.23, -0.24,  -0.26, -0.25, -0.23, -0.21,  -0.19, -0.18, -0.16, -0.15,
  -0.14, -0.13, -0.12,
];
const reerDarkRed = [
  0.02, 0.03,  0.02, 0.03, 0.02, 0.04,  0.03, 0.02, -0.05, -0.02,
  0.02, 0.05, 0.03, 0.05,  0.08, 0.05, -0.05, 0.06,  0.1, 0.15, 0.18, 0.2,  0.28, 0.3, 0.27, 0.26,
  0.3, 0.33, 0.34, 0.32,  0.33, 0.35, 0.28, 0.36,  0.4, 0.42, 0.45, 0.48,  0.46, 0.52, 0.55, 0.6,
  0.62, 0.72, 0.75, 0.72,  0.8, 0.93, 0.9, 0.85,  0.8, 0.88, 0.94, 0.93,  0.9, 0.95, 1.05, 1.03,
  1.03, 1.05, 1.08, 1.1,  1.1, 1.12, 1.13, 1.14,  1.15, 1.15, 1.14, 1.13,  1.13, 1.12, 1.12, 1.1,
  1.07, 1.05, 1.08, 1.1,  1.12, 1.13, 1.15, 1.14,  1.12, 1.08, 1, 0.97,  0.95, 0.92, 0.92, 0.92,
  0.95, 0.92, 0.88,
];
const reerMagenta = [
  0, 0,  0, 0, 0, 0,  0, 0, 0, 0,
  0, 0, 0, 0,  0.02, 0.02, 0.01, 0,  0, 0, 0, 0,  0, 0, 0, 0,
  0, 0, 0, 0,  0, 0, 0, 0,  0, 0, 0, 0,  0, 0, 0, 0,
  0, 0, 0, 0,  -0.03, -0.04, -0.02, 0,  0, 0.03, 0.05, 0.05,  0.05, 0.03, 0, 0,
  0, 0, 0, 0,  0, 0, 0, 0,  0, 0, 0, 0,  0, 0, 0, 0,
  0, 0, 0, 0,  0.02, 0.03, 0.03, 0.02,  0, 0, 0, 0,  0, 0, 0, 0,
  0, 0, 0,
];

type Series = number[] | null;
interface PanelSpec {
  title: string;
  row: number;
  col: number;
  yDomain: [number, number];
  yTicks: number[];
  series: Series[]; // one slot per shock colour, in stacking order
}

const panels: PanelSpec[] = [
  { title: "GDPR", row: 0, col: 0, yDomain: [-0.6, 2.27], yTicks: [-0.5, 0, 0.5, 1, 1.5, 2],
    series: [gdprBlue, gdprOrange, gdprYellow, gdprPurple, null, gdprLightBlue, gdprDarkRed, null] },
  { title: "GDPD", row: 0, col: 1, yDomain: [-0.134, 0.638], yTicks: [0, 0.2, 0.4, 0.6],
    series: [gdpdBlue, gdpdOrange, gdpdYellow, null, gdpdGreen, gdpdLightBlue, gdpdDarkRed, gdpdMagenta] },
  { title: "HP", row: 0, col: 2, yDomain: [-0.589, 1.347], yTicks: [-0.5, 0, 0.5, 1],
    series: [hpBlue, hpOrange, hpYellow, hpPurple, null, hpLightBlue, hpDarkRed, null] },
  { title: "CREDIT/GDP", row: 1, col: 0, yDomain: [-69, 170], yTicks: [-50, 0, 50, 100, 150],
    series: [crBlue, crOrange, crYellow, crPurple, null, crLightBlue, crDarkRed, crMagenta] },
  { title: "STR", row: 1, col: 1, yDomain: [-22.8, 9.15], yTicks: [-20, -15, -10, -5, 0, 5],
    series: [strBlue, strOrange, strYellow, strPurple, strGreen, strLightBlue, strDarkRed, strMagenta] },
  { title: "SP", row: 1, col: 2, yDomain: [-3.18, 4.82], yTicks: [-2, 0, 2, 4],
    series: [spBlue, spOrange, spYellow, spPurple, null, spLightBlue, spDarkRed, spMagenta] },
  { title: "REER", row: 2, col: 0, yDomain: [-1.067, 1.183], yTicks: [-1, -0.5, 0, 0.5, 1],
    series: [reerBlue, null, reerYellow, reerPurple, reerGreen, reerLightBlue, reerDarkRed, reerMagenta] },
];

// Layout of the subplot grid
const WIDTH = 1022;
const HEIGHT = 554;
const COL_X = [30, 391, 752.7];
const ROW_TOP = [23, 212.3, 401.6];
const PLOT_W = 274.5;
const PLOT_H = 135.5;
const X_DOMAIN: [number, number] = [1995.5, 2018.75];
const FONT = "'Liberation Serif', 'Times New Roman', serif";
const AXIS_COLOR = "#262626";

function Panel({ spec, idx }: { spec: PanelSpec; idx: number }) {
  const left = COL_X[spec.col];
  const top = ROW_TOP[spec.row];
  const bottom = top + PLOT_H;
  const x = d3.scaleLinear().domain(X_DOMAIN).range([left, left + PLOT_W]);
  const y = d3.scaleLinear().domain(spec.yDomain).range([bottom, top]);
  const step = x(X_DOMAIN[0] + 0.25) - x(X_DOMAIN[0]);
  const bw = step * 0.8;
  const clipId = `clip-${idx}`;

  const rects: React.ReactNode[] = [];
  quarterStarts.forEach((q, i) => {
    let pos = 0;
    let neg = 0;
    const cx = x(q + 0.125);
    spec.series.forEach((s, k) => {
      if (!s) return;
      const v = s[i];
      if (!v) return;
      let a: number, b: number;
      if (v > 0) {
        a = pos;
        b = pos + v;
        pos = b;
      } else {
        a = neg;
        b = neg + v;
        neg = b;
      }
      const y1 = y(Math.max(a, b));
      const y2 = y(Math.min(a, b));
      rects.push(
        <rect
          key={`${i}-${k}`}
          x={cx - bw / 2}
          y={y1}
          width={bw}
          height={Math.max(0, y2 - y1)}
          fill={SHOCK_COLORS[k]}
          stroke="#000"
          strokeWidth={0.5}
        />
      );
    });
  });

  const tickLen = 2.8;
  return (
    <g>
      <defs>
        <clipPath id={clipId}>
          <rect x={left} y={top} width={PLOT_W} height={PLOT_H} />
        </clipPath>
      </defs>
      <g clipPath={`url(#${clipId})`}>{rects}</g>
      {/* axes */}
      <line x1={left} x2={left + PLOT_W} y1={bottom} y2={bottom} stroke={AXIS_COLOR} strokeWidth={0.6} />
      <line x1={left} x2={left} y1={top} y2={bottom} stroke={AXIS_COLOR} strokeWidth={0.6} />
      {YEAR_TICKS.map((t) => (
        <g key={`xt-${t}`}>
          <line x1={x(t)} x2={x(t)} y1={bottom} y2={bottom - tickLen} stroke={AXIS_COLOR} strokeWidth={0.6} />
          <text x={x(t)} y={bottom + 13.3} textAnchor="middle" fontFamily={FONT} fontSize={10} fill={AXIS_COLOR}>
            {t}
          </text>
        </g>
      ))}
      {spec.yTicks.map((t) => (
        <g key={`yt-${t}`}>
          <line x1={left} x2={left + tickLen} y1={y(t)} y2={y(t)} stroke={AXIS_COLOR} strokeWidth={0.6} />
          <text x={left - 4.5} y={y(t) + 3.4} textAnchor="end" fontFamily={FONT} fontSize={10} fill={AXIS_COLOR}>
            {String(t)}
          </text>
        </g>
      ))}
      <text
        x={left + PLOT_W / 2}
        y={top - 3.5}
        textAnchor="middle"
        fontFamily={FONT}
        fontSize={11.5}
        fontWeight="bold"
        fill="#000"
      >
        {spec.title}
      </text>
    </g>
  );
}

export default function App() {
  return (
    <svg
      width={WIDTH}
      height={HEIGHT}
      viewBox={`0 0 ${WIDTH} ${HEIGHT}`}
      style={{ position: "absolute", left: 0, top: 0, background: "#fff", display: "block" }}
    >
      <rect x={0} y={0} width={WIDTH} height={HEIGHT} fill="#fff" />
      {panels.map((p, i) => (
        <Panel key={p.title} spec={p} idx={i} />
      ))}
    </svg>
  );
}
